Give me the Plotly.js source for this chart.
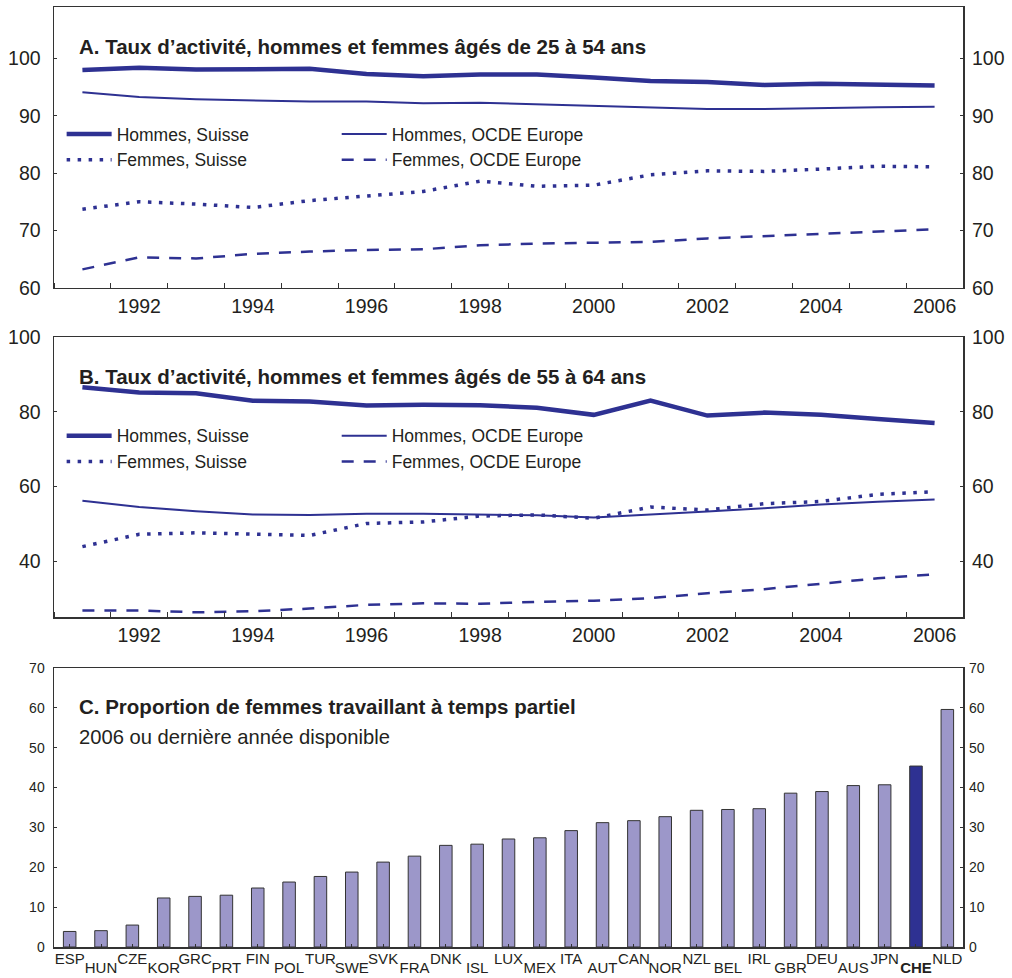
<!DOCTYPE html>
<html>
<head>
<meta charset="utf-8">
<script src="https://cdn.plot.ly/plotly-3.0.1.min.js"></script>
<style>html,body{margin:0;padding:0;background:#fff;}#chart{width:1012px;height:978px;}</style>
</head>
<body>
<div id="chart"></div>
<script>
// ---------- Data ----------
const years = [1991,1992,1993,1994,1995,1996,1997,1998,1999,2000,2001,2002,2003,2004,2005,2006];
const tickYears = [1992,1994,1996,1998,2000,2002,2004,2006];

// Panel A: 25-54 ans
const hommesSuisseA = [98.0,98.4,98.1,98.1,98.2,97.3,96.9,97.2,97.2,96.7,96.1,95.9,95.4,95.6,95.4,95.3];
const hommesOcdeA   = [94.1,93.3,92.9,92.7,92.5,92.5,92.2,92.3,92.0,91.7,91.4,91.2,91.2,91.4,91.5,91.6];
const femmesSuisseA = [73.7,75.0,74.6,74.0,75.2,76.0,76.8,78.6,77.7,77.9,79.7,80.4,80.3,80.7,81.2,81.1];
const femmesOcdeA   = [63.2,65.3,65.1,65.9,66.3,66.6,66.7,67.4,67.7,67.8,68.0,68.6,69.0,69.4,69.7,70.2];

// Panel B: 55-64 ans
const hommesSuisseB = [86.6,85.2,85.0,83.0,82.8,81.7,81.9,81.8,81.1,79.2,83.0,79.0,79.8,79.2,78.1,77.0];
const hommesOcdeB   = [56.2,54.5,53.4,52.5,52.4,52.7,52.7,52.6,52.3,51.7,52.4,53.3,54.2,55.2,55.9,56.5];
const femmesSuisseB = [43.9,47.2,47.6,47.2,46.9,50.1,50.5,52.1,52.4,51.5,54.5,53.7,55.4,56.0,57.9,58.6];
const femmesOcdeB   = [26.8,26.8,26.3,26.6,27.3,28.3,28.7,28.6,29.1,29.4,30.1,31.4,32.5,33.9,35.4,36.5];

// Panel C: part-time women
const countries = ["ESP","HUN","CZE","KOR","GRC","PRT","FIN","POL","TUR","SWE","SVK","FRA","DNK","ISL","LUX","MEX","ITA","AUT","CAN","NOR","NZL","BEL","IRL","GBR","DEU","AUS","JPN","CHE","NLD"];
const partTime  = [3.9,4.1,5.5,12.3,12.7,13.0,14.8,16.3,17.7,18.8,21.3,22.8,25.5,25.8,27.1,27.4,29.2,31.2,31.7,32.7,34.3,34.5,34.7,38.6,39.0,40.5,40.7,45.4,59.6];
const highlight = "CHE";

const ticksA = [60,70,80,90,100];
const ticksB = [40,60,80,100];
const ticksC = [0,10,20,30,40,50,60,70];

const legendNames = {hs:"Hommes, Suisse", fs:"Femmes, Suisse", ho:"Hommes, OCDE Europe", fo:"Femmes, OCDE Europe"};
const titleA = "A. Taux d’activité, hommes et femmes âgés de 25 à 54 ans";
const titleB = "B. Taux d’activité, hommes et femmes âgés de 55 à 64 ans";
const titleC = "C. Proportion de femmes travaillant à temps partiel";
const subtitleC = "2006 ou dernière année disponible";

// ---------- Styles ----------
const FONT = "Liberation Sans, Arial, Helvetica, sans-serif";
const TXT = "#231f20";
const BLUE = "#2e3192";
const BAR = "#9c97c9";
const AX = "#333333";

const styles = {
  hs: {width:4.5, dash:"solid"},
  ho: {width:2, dash:"solid"},
  fs: {width:3.5, dash:"3.5px,7.5px"},
  fo: {width:2.5, dash:"12px,10px"}
};

function lt(y, key, xa, ya, legend){
  return {type:"scatter", mode:"lines", x:years, y:y, name:legendNames[key],
    xaxis:xa, yaxis:ya, legend:legend, showlegend:true, hoverinfo:"skip",
    line:{color:BLUE, width:styles[key].width, dash:styles[key].dash}};
}

const idx = countries.map((c,i)=>i);
const evenIdx = idx.filter(i=>i%2===0);
const oddIdx = idx.filter(i=>i%2===1);
const lab = c => c===highlight ? "<b>"+c+"</b>" : c;
function barTrace(ids, xa, ya){
  return {type:"bar", x:ids, y:ids.map(i=>partTime[i]), xaxis:xa, yaxis:ya, showlegend:false, width:0.4,
    marker:{color:ids.map(i => countries[i]===highlight ? BLUE : BAR), line:{color:AX, width:1}}, hoverinfo:"skip"};
}

const traces = [
  lt(hommesSuisseA,"hs","x","y","legend"),
  lt(femmesSuisseA,"fs","x","y","legend"),
  lt(hommesOcdeA,"ho","x","y2","legend2"),
  lt(femmesOcdeA,"fo","x","y2","legend2"),
  lt(hommesSuisseB,"hs","x2","y3","legend3"),
  lt(femmesSuisseB,"fs","x2","y3","legend3"),
  lt(hommesOcdeB,"ho","x2","y4","legend4"),
  lt(femmesOcdeB,"fo","x2","y4","legend4"),
  barTrace(evenIdx, "x3", "y5"),
  barTrace(oddIdx, "x4", "y6")
];

const domA = [0.7014, 1.0], domB = [0.3509, 0.6487], domC = [0.0, 0.2968];

function yearAxis(anchor){
  return {anchor:anchor, domain:[0,1], range:[1990.5,2006.5], tickmode:"array", tickvals:tickYears,
    ticks:"", showline:true, linecolor:AX, linewidth:1.5, mirror:true, showgrid:false, zeroline:false,
    tickfont:{size:19.5, color:TXT},
    minor:{ticks:"inside", ticklen:5, tickwidth:1, tickcolor:AX, tickmode:"linear", tick0:0.5, dtick:1, showgrid:false}};
}
function valAxis(dom, range, vals, anchor, size, standoff){
  return {domain:dom, range:range, tickmode:"array", tickvals:vals, anchor:anchor,
    ticks:"inside", ticklen:3, tickwidth:1, tickcolor:AX, showline:true, linecolor:AX, linewidth:1.5,
    mirror:true, showgrid:false, zeroline:false, tickfont:{size:size, color:TXT}, ticklabelstandoff:standoff};
}
function rightAxis(base, range, vals, anchor, size, standoff){
  return {overlaying:base, side:"right", range:range, tickmode:"array", tickvals:vals, anchor:anchor,
    ticks:"inside", ticklen:3, tickwidth:1, tickcolor:AX, showline:false, showgrid:false, zeroline:false,
    tickfont:{size:size, color:TXT}, ticklabelstandoff:standoff};
}

function legendAt(x, y){
  return {x:x, y:y, xref:"paper", yref:"paper", xanchor:"left", yanchor:"top", bgcolor:"rgba(0,0,0,0)",
    borderwidth:0, font:{size:17.5, color:TXT, family:FONT}, traceorder:"normal", itemwidth:45};
}
function ann(text, xr, yr, y, size, bold){
  return {text:text, xref:xr+" domain", yref:yr+" domain", x:0.0253, y:y, xanchor:"left", yanchor:"middle",
    showarrow:false, font:{size:size, color:TXT, family:FONT, weight:bold?"bold":"normal"}};
}

const layout = {
  width:1012, height:978,
  margin:{l:54, r:49, t:7, b:31},
  paper_bgcolor:"#fff", plot_bgcolor:"#fff",
  font:{family:FONT, color:TXT},
  showlegend:true,
  xaxis: yearAxis("y"),
  yaxis: valAxis(domA, [60,109], ticksA, "x", 19.5, 8),
  yaxis2: rightAxis("y", [60,109], ticksA, "x", 19.5, 8),
  xaxis2: yearAxis("y3"),
  yaxis3: valAxis(domB, [25,100], ticksB, "x2", 19.5, 8),
  yaxis4: rightAxis("y3", [25,100], ticksB, "x2", 19.5, 8),
  xaxis3: {anchor:"y5", domain:[0,1], range:[-0.5, countries.length-0.5],
    tickmode:"array", tickvals:evenIdx, ticktext:evenIdx.map(i=>lab(countries[i])),
    ticks:"inside", ticklen:3, tickcolor:AX, showline:true, linecolor:AX, linewidth:1.5, mirror:true,
    showgrid:false, zeroline:false, tickfont:{size:15, color:TXT}, tickangle:0, ticklabelstandoff:-3},
  xaxis4: {overlaying:"x3", anchor:"y5", range:[-0.5, countries.length-0.5],
    tickmode:"array", tickvals:oddIdx, ticktext:oddIdx.map(i=>lab(countries[i])),
    ticks:"inside", ticklen:3, tickcolor:AX, showline:false, showgrid:false, zeroline:false,
    tickfont:{size:15, color:TXT}, tickangle:0, ticklabelstandoff:10},
  yaxis5: valAxis(domC, [0,70], ticksC, "x3", 14, 5),
  yaxis6: rightAxis("y5", [0,70], ticksC, "x3", 14, 5),
  legend: legendAt(0.0084, 0.884),
  legend2: legendAt(0.311, 0.884),
  legend3: legendAt(0.0084, 0.563),
  legend4: legendAt(0.311, 0.563),
  annotations: [
    ann(titleA, "x", "y", 0.86, 20.5, true),
    ann(titleB, "x2", "y3", 0.86, 20.5, true),
    ann(titleC, "x3", "y5", 0.862, 20.5, true),
    ann(subtitleC, "x3", "y5", 0.753, 20.2, false)
  ]
};

Plotly.newPlot("chart", traces, layout, {staticPlot:true, displayModeBar:false});
</script>
</body>
</html>
